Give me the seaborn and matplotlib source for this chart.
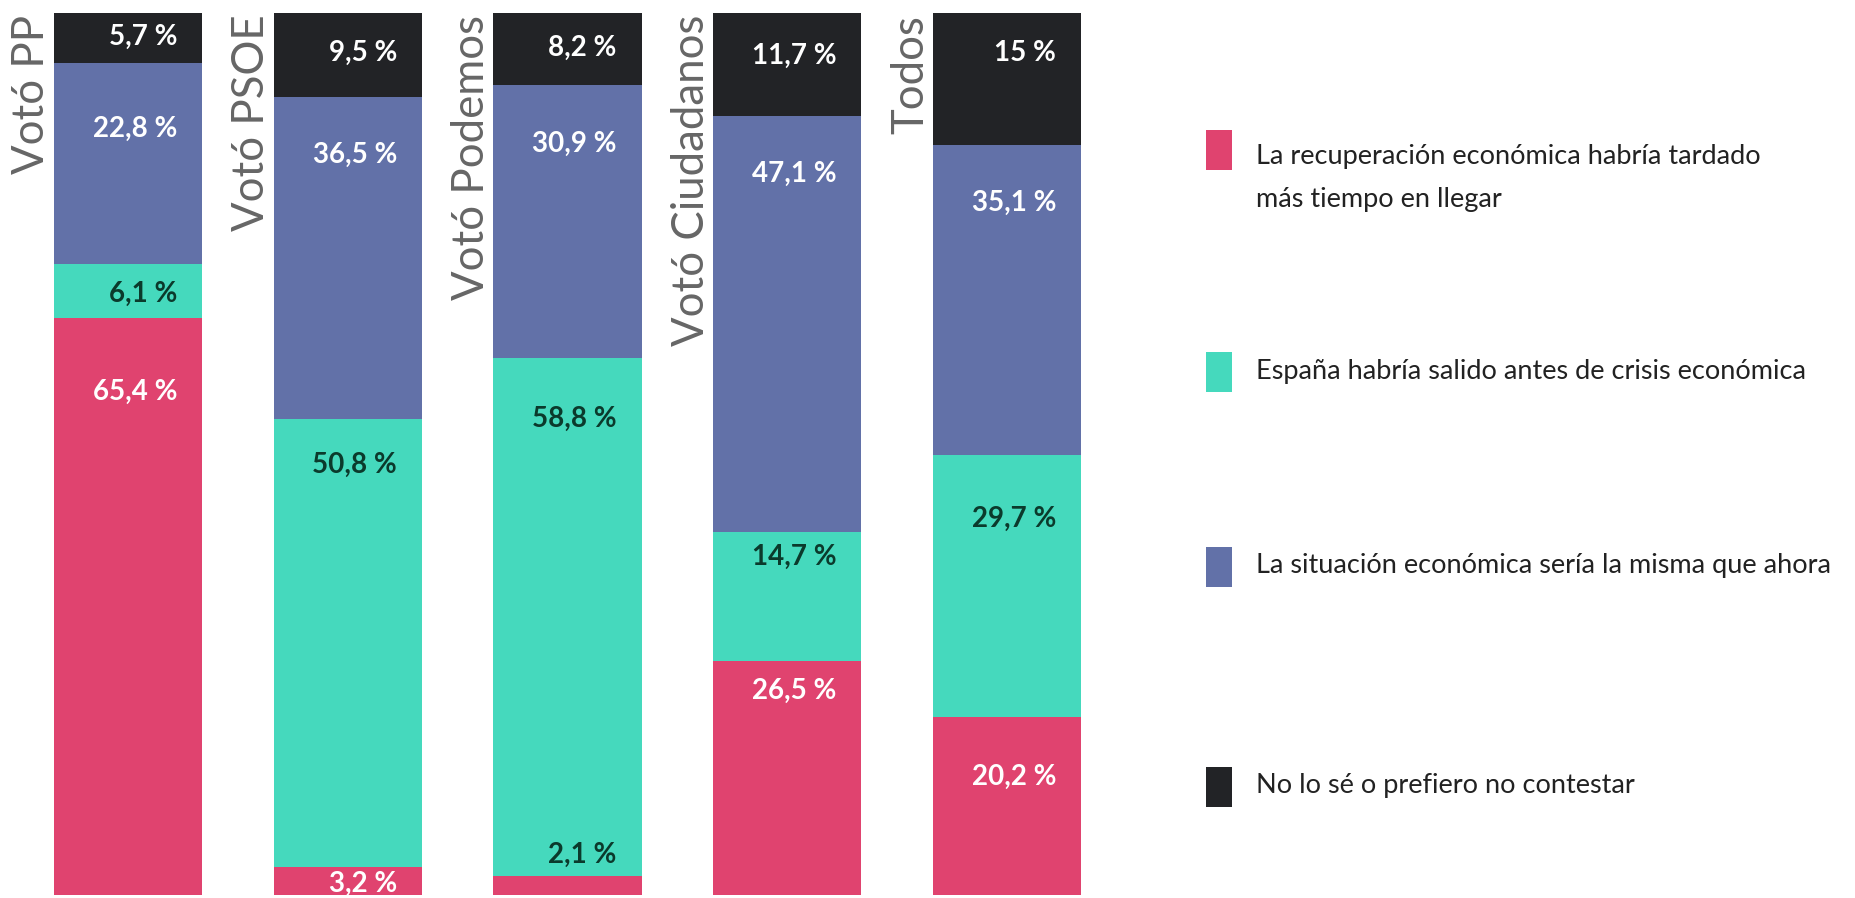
import matplotlib
matplotlib.use("Agg")
import matplotlib.pyplot as plt
from matplotlib.patches import Rectangle
import seaborn as sns
import pandas as pd
import numpy as np

# ---------------- data ----------------
categories = ["Votó PP", "Votó PSOE", "Votó Podemos", "Votó Ciudadanos", "Todos"]
series_names = [
    "La recuperación económica habría tardado\nmás tiempo en llegar",
    "España habría salido antes de crisis económica",
    "La situación económica sería la misma que ahora",
    "No lo sé o prefiero no contestar",
]
recuperacion_tardia = [65.4, 3.2, 2.1, 26.5, 20.2]
salida_antes = [6.1, 50.8, 58.8, 14.7, 29.7]
misma_situacion = [22.8, 36.5, 30.9, 47.1, 35.1]
no_sabe = [5.7, 9.5, 8.2, 11.7, 15.0]

# ---------------- style ----------------
colors = ["#E0436F", "#45D9BD", "#6271A8", "#222326"]
label_colors = ["#FFFFFF", "#0B3A2C", "#FFFFFF", "#FFFFFF"]
dark_label = "#0B3A2C"
# distance (percentage points) from each segment's top to its label centre
label_offsets = [
    [8.4, 1.9, -2.4, 3.4, 6.8],
    [3.3, 5.2, 6.9, 2.9, 7.3],
    [7.4, 6.6, 6.6, 6.5, 6.5],
    [2.7, 4.5, 4.0, 4.9, 4.5],
]
legend_y_px = [150, 372, 567, 787]

sns.set_style("white")
plt.rcParams["font.family"] = ["Lato", "DejaVu Sans"]

W, H = 1856, 898
fig = plt.figure(figsize=(W / 100, H / 100), dpi=100)
fig.patch.set_facecolor("white")
ax = fig.add_axes([0, 3 / H, 1, 882 / H])

series = [recuperacion_tardia, salida_antes, misma_situacion, no_sabe]
cum = np.cumsum(np.array(series), axis=0)

# draw stacked bars top-down (cumulative heights overdrawn)
for i in range(len(series) - 1, -1, -1):
    df = pd.DataFrame({"cat": categories, "val": cum[i]})
    sns.barplot(data=df, x="cat", y="val", order=categories, color=colors[i],
                saturation=1, width=0.674, errorbar=None, ax=ax, linewidth=0)

ax.set_xlim(-0.5825, 7.8635)
ax.set_ylim(0, 100)
ax.axis("off")

def fmt(v):
    if float(v).is_integer():
        return f"{int(v)} %"
    return f"{v:.1f}".replace(".", ",") + " %"

for i, vals in enumerate(series):
    for j, v in enumerate(vals):
        top = cum[i][j]
        off = label_offsets[i][j]
        col = dark_label if off < 0 else label_colors[i]
        ax.text(j + 0.337 - 0.113, top - off, fmt(v), ha="right", va="center",
                fontsize=20, fontweight="bold", color=col, clip_on=False)

for j, c in enumerate(categories):
    ax.text(j - 0.437, 99.8, c, rotation=90, ha="center", va="top",
            fontsize=31.5, fontweight="normal", color="#666666")

# legend
for k, name in enumerate(series_names):
    yc = legend_y_px[k]
    fig.add_artist(Rectangle((1206 / W, 1 - (yc + 20) / H), 26 / W, 40 / H,
                             transform=fig.transFigure, facecolor=colors[k],
                             edgecolor="none"))
    if "\n" in name:
        fig.text(1256 / W, 1 - (yc - 6) / H, name, ha="left", va="top",
                 fontsize=19.5, color="#222222", linespacing=1.9)
    else:
        fig.text(1256 / W, 1 - (yc - 1) / H, name, ha="left", va="center",
                 fontsize=19.5, color="#222222")

fig.savefig("out.png", dpi=100, facecolor="white")
